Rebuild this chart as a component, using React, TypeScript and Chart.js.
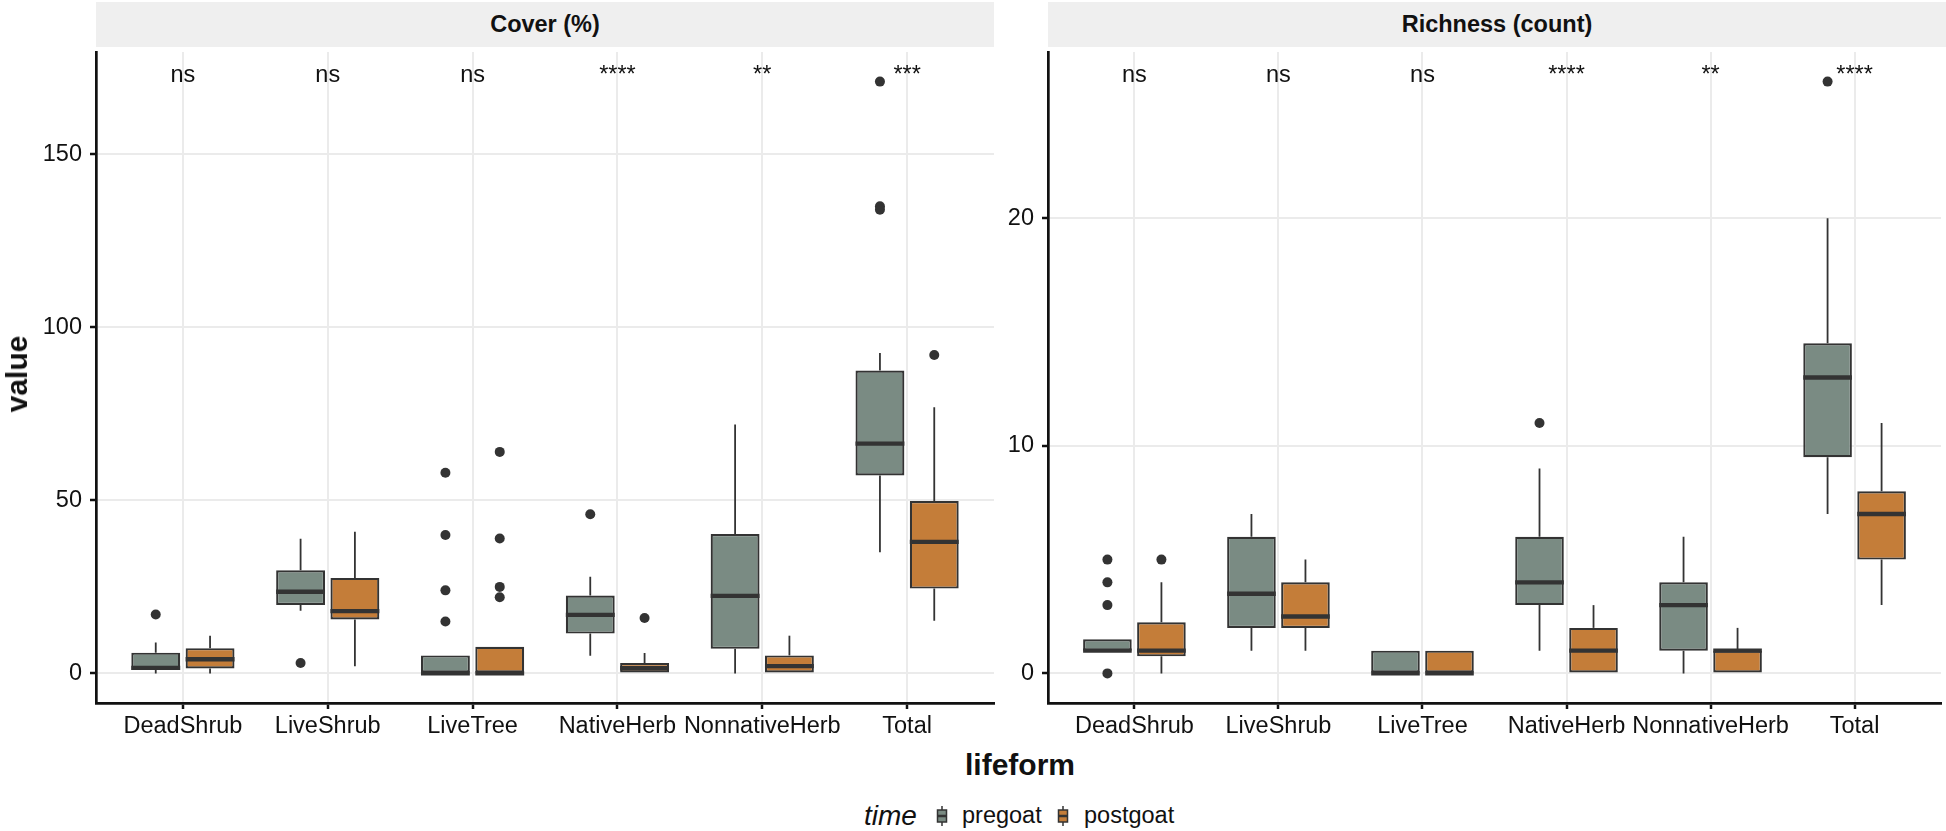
import React, { useEffect, useRef } from 'react';
import { Chart, registerables } from 'chart.js';

Chart.register(...registerables);

// ---------------- data ----------------
const CATEGORIES = ['DeadShrub', 'LiveShrub', 'LiveTree', 'NativeHerb', 'NonnativeHerb', 'Total'];
const SERIES = ['pregoat', 'postgoat'];

// Cover (%) — pregoat
const COVER_PRE_LO = [0, 18.1, 0, 5.1, 0, 35.0];
const COVER_PRE_Q1 = [0.95, 19.8, 0, 11.5, 7.1, 57.2];
const COVER_PRE_MED = [1.6, 23.6, 0, 16.9, 22.4, 66.4];
const COVER_PRE_Q3 = [6.0, 29.8, 5.2, 22.5, 40.3, 87.5];
const COVER_PRE_HI = [8.9, 38.9, 5.2, 27.9, 71.9, 92.6];
const COVER_PRE_OUT = [[17], [3], [58, 40, 24, 15], [46], [], [171, 135, 134]];

// Cover (%) — postgoat
const COVER_POST_LO = [0, 2.1, 0, 0, 0, 15.2];
const COVER_POST_Q1 = [1.4, 15.6, 0, 0, 0, 24.5];
const COVER_POST_MED = [4.1, 18.0, 0, 1.5, 2.1, 38.0];
const COVER_POST_Q3 = [7.3, 27.6, 7.7, 3.0, 5.2, 49.8];
const COVER_POST_HI = [10.9, 40.9, 7.7, 5.9, 10.9, 76.9];
const COVER_POST_OUT = [[], [], [64, 39, 25, 22], [16], [], [92]];

// Richness (count) — pregoat
const RICH_PRE_LO = [1, 1, 0, 1, 0, 7];
const RICH_PRE_Q1 = [1, 2, 0, 3, 1, 9.5];
const RICH_PRE_MED = [1, 3.5, 0, 4, 3, 13];
const RICH_PRE_Q3 = [1.5, 6, 1, 6, 4, 14.5];
const RICH_PRE_HI = [1.5, 7, 1, 9, 6, 20];
const RICH_PRE_OUT = [[5, 4, 3, 0], [], [], [11], [], [26]];

// Richness (count) — postgoat
const RICH_POST_LO = [0, 1, 0, 0, 0, 3];
const RICH_POST_Q1 = [0.75, 2, 0, 0, 0, 5];
const RICH_POST_MED = [1, 2.5, 0, 1, 1, 7];
const RICH_POST_Q3 = [2.25, 4, 1, 2, 1, 8];
const RICH_POST_HI = [4, 5, 1, 3, 2, 11];
const RICH_POST_OUT = [[5], [], [], [], [], []];

// significance labels
const COVER_SIG = ['ns', 'ns', 'ns', '****', '**', '***'];
const RICH_SIG = ['ns', 'ns', 'ns', '****', '**', '****'];
const COVER_SIG_Y = 171;
const RICH_SIG_Y = 26;

// axis ticks / ranges
const COVER_TICKS = [0, 50, 100, 150];
const RICH_TICKS = [0, 10, 20];
const COVER_RANGE = [-8.55, 179.55];
const RICH_RANGE = [-1.3, 27.3];

// ---------------- styles ----------------
const FONT = "'Liberation Sans', Arial, Helvetica, sans-serif";
const TXT = 23.5;
const PRE_FILL = '#7A8B83';
const POST_FILL = '#C47D39';
const LINE_DARK = '#333333';
const GRID = '#EBEBEB';
const STRIP = '#EFEFEF';
const DODGE = 0.1875;

type Box = { lo: number[]; q1: number[]; med: number[]; q3: number[]; hi: number[]; out: number[][] };

type Panel = {
  pre: Box;
  post: Box;
  ticks: number[];
  range: number[];
  sig: string[];
  sigY: number;
  axisWidth: number;
  padRight: number;
};

const COVER_PANEL: Panel = {
  pre: { lo: COVER_PRE_LO, q1: COVER_PRE_Q1, med: COVER_PRE_MED, q3: COVER_PRE_Q3, hi: COVER_PRE_HI, out: COVER_PRE_OUT },
  post: { lo: COVER_POST_LO, q1: COVER_POST_Q1, med: COVER_POST_MED, q3: COVER_POST_Q3, hi: COVER_POST_HI, out: COVER_POST_OUT },
  ticks: COVER_TICKS,
  range: COVER_RANGE,
  sig: COVER_SIG,
  sigY: COVER_SIG_Y,
  axisWidth: 96,
  padRight: 6,
};

const RICH_PANEL: Panel = {
  pre: { lo: RICH_PRE_LO, q1: RICH_PRE_Q1, med: RICH_PRE_MED, q3: RICH_PRE_Q3, hi: RICH_PRE_HI, out: RICH_PRE_OUT },
  post: { lo: RICH_POST_LO, q1: RICH_POST_Q1, med: RICH_POST_MED, q3: RICH_POST_Q3, hi: RICH_POST_HI, out: RICH_POST_OUT },
  ticks: RICH_TICKS,
  range: RICH_RANGE,
  sig: RICH_SIG,
  sigY: RICH_SIG_Y,
  axisWidth: 48,
  padRight: 2,
};

function buildChart(canvas: HTMLCanvasElement, p: Panel) {
  const groups = [
    { box: p.pre, offset: -DODGE, fill: PRE_FILL, name: SERIES[0] },
    { box: p.post, offset: DODGE, fill: POST_FILL, name: SERIES[1] },
  ];

  const outlierSets = groups.map((g) => ({
    type: 'scatter' as const,
    label: g.name + ' outliers',
    data: g.box.out.flatMap((vals, i) => vals.map((v) => ({ x: i + 1 + g.offset, y: v }))),
    pointRadius: 5,
    pointBackgroundColor: LINE_DARK,
    pointBorderWidth: 0,
    showLine: false,
  }));

  const boxSets = groups.map((g) => ({
    type: 'bar' as const,
    label: g.name,
    data: g.box.q1.map((q1, i) => ({ x: i + 1 + g.offset, y: [q1, g.box.q3[i]] })),
    backgroundColor: g.fill,
    borderColor: LINE_DARK,
    borderWidth: 2.2,
    borderSkipped: false,
    grouped: false,
    categoryPercentage: 1,
    barPercentage: 0.9,
  }));

  const extras = {
    id: 'boxExtras',
    beforeDatasetsDraw(chart: any) {
      const ctx = chart.ctx;
      const xs = chart.scales.x;
      const ys = chart.scales.y;
      ctx.save();
      ctx.strokeStyle = LINE_DARK;
      ctx.lineWidth = 1.8;
      groups.forEach((g) => {
        g.box.lo.forEach((lo, i) => {
          const px = xs.getPixelForValue(i + 1 + g.offset);
          ctx.beginPath();
          ctx.moveTo(px, ys.getPixelForValue(lo));
          ctx.lineTo(px, ys.getPixelForValue(g.box.q1[i]));
          ctx.moveTo(px, ys.getPixelForValue(g.box.q3[i]));
          ctx.lineTo(px, ys.getPixelForValue(g.box.hi[i]));
          ctx.stroke();
        });
      });
      ctx.restore();
    },
    afterDatasetsDraw(chart: any) {
      const ctx = chart.ctx;
      const ys = chart.scales.y;
      ctx.save();
      ctx.strokeStyle = LINE_DARK;
      ctx.lineWidth = 4.4;
      groups.forEach((g, gi) => {
        const meta = chart.getDatasetMeta(2 + gi);
        meta.data.forEach((el: any, i: number) => {
          const { x, width } = el.getProps(['x', 'width'], true);
          const py = ys.getPixelForValue(g.box.med[i]);
          ctx.beginPath();
          ctx.moveTo(x - width / 2, py);
          ctx.lineTo(x + width / 2, py);
          ctx.stroke();
        });
      });
      ctx.restore();
    },
    afterDraw(chart: any) {
      const ctx = chart.ctx;
      const xs = chart.scales.x;
      const ys = chart.scales.y;
      ctx.save();
      ctx.fillStyle = '#111';
      ctx.font = `${TXT}px ${FONT}`;
      ctx.textAlign = 'center';
      ctx.textBaseline = 'alphabetic';
      p.sig.forEach((s, i) => {
        ctx.fillText(s, xs.getPixelForValue(i + 1), ys.getPixelForValue(p.sigY));
      });
      ctx.restore();
    },
  };

  return new Chart(canvas, {
    type: 'bar',
    data: { datasets: [...outlierSets, ...boxSets] as any },
    options: {
      animation: false,
      responsive: false,
      events: [],
      layout: { padding: { left: 0, right: p.padRight, top: 0, bottom: 0 } },
      plugins: { legend: { display: false }, tooltip: { enabled: false } },
      scales: {
        x: {
          type: 'linear',
          min: 0.4,
          max: 6.6,
          offset: false,
          afterBuildTicks: (scale: any) => {
            scale.ticks = CATEGORIES.map((_, i) => ({ value: i + 1 }));
          },
          afterFit: (scale: any) => {
            scale.height = 44;
            scale.paddingLeft = 0;
            scale.paddingRight = 0;
          },
          ticks: {
            autoSkip: false,
            maxRotation: 0,
            padding: 3,
            color: '#111',
            font: { family: FONT, size: TXT },
            callback: (v: any) => CATEGORIES[Math.round(Number(v)) - 1] ?? '',
          },
          grid: {
            offset: false,
            color: GRID,
            lineWidth: 2,
            drawTicks: true,
            tickLength: 6,
            tickColor: '#111',
            tickWidth: 2.5,
          },
          border: { display: true, color: '#111', width: 2.7 },
        },
        y: {
          type: 'linear',
          min: p.range[0],
          max: p.range[1],
          afterBuildTicks: (scale: any) => {
            scale.ticks = p.ticks.map((v) => ({ value: v }));
          },
          afterFit: (scale: any) => {
            scale.width = p.axisWidth;
            scale.paddingTop = 0;
            scale.paddingBottom = 0;
          },
          ticks: {
            padding: 8,
            color: '#111',
            font: { family: FONT, size: TXT },
            callback: (v: any) => String(v),
          },
          grid: {
            offset: false,
            color: GRID,
            lineWidth: 2,
            drawTicks: true,
            tickLength: 6,
            tickColor: '#111',
            tickWidth: 2.5,
          },
          border: { display: true, color: '#111', width: 2.7 },
        },
      },
    } as any,
    plugins: [extras],
  });
}

function PanelChart({ panel, left, width }: { panel: Panel; left: number; width: number }) {
  const ref = useRef<HTMLCanvasElement | null>(null);
  useEffect(() => {
    if (!ref.current) return;
    const chart = buildChart(ref.current, panel);
    return () => chart.destroy();
  }, [panel]);
  return (
    <canvas
      ref={ref}
      width={width}
      height={700}
      style={{ position: 'absolute', left, top: 47, width, height: 700 }}
    />
  );
}

function LegendKey({ fill }: { fill: string }) {
  return (
    <svg width={12} height={22} style={{ display: 'block' }}>
      <line x1={6} y1={1} x2={6} y2={21} stroke={LINE_DARK} strokeWidth={1.5} />
      <rect x={1.5} y={5} width={9} height={12} fill={fill} stroke={LINE_DARK} strokeWidth={1.5} />
      <line x1={1.5} y1={11} x2={10.5} y2={11} stroke={LINE_DARK} strokeWidth={2.5} />
    </svg>
  );
}

export default function App() {
  const text = { position: 'absolute' as const, fontFamily: FONT, color: '#111', whiteSpace: 'nowrap' as const };
  return (
    <div style={{ position: 'absolute', left: 0, top: 0, width: 1946, height: 831, background: '#fff', overflow: 'hidden' }}>
      {/* strips */}
      <div style={{ position: 'absolute', left: 96, top: 2, width: 898, height: 45, background: STRIP }} />
      <div style={{ position: 'absolute', left: 1048, top: 2, width: 898, height: 45, background: STRIP }} />
      <div style={{ ...text, left: 96, top: 2, width: 898, height: 45, lineHeight: '45px', textAlign: 'center', fontWeight: 'bold', fontSize: TXT }}>
        Cover (%)
      </div>
      <div style={{ ...text, left: 1048, top: 2, width: 898, height: 45, lineHeight: '45px', textAlign: 'center', fontWeight: 'bold', fontSize: TXT }}>
        Richness (count)
      </div>

      <PanelChart panel={COVER_PANEL} left={0} width={1000} />
      <PanelChart panel={RICH_PANEL} left={1000} width={946} />

      {/* axis titles */}
      <div
        style={{
          ...text,
          left: 17,
          top: 374,
          fontWeight: 'bold',
          fontSize: 30,
          lineHeight: '30px',
          transform: 'translate(-50%, -50%) rotate(-90deg)',
        }}
      >
        value
      </div>
      <div style={{ ...text, left: 1020, top: 765, fontWeight: 'bold', fontSize: 30, lineHeight: '30px', transform: 'translate(-50%, -50%)' }}>
        lifeform
      </div>

      {/* legend */}
      <div style={{ ...text, left: 864, top: 816, fontStyle: 'italic', fontSize: 28, lineHeight: '28px', transform: 'translateY(-50%)' }}>
        time
      </div>
      <div style={{ position: 'absolute', left: 936, top: 805 }}>
        <LegendKey fill={PRE_FILL} />
      </div>
      <div style={{ ...text, left: 962, top: 816, fontSize: TXT, lineHeight: `${TXT}px`, transform: 'translateY(-50%)' }}>
        {SERIES[0]}
      </div>
      <div style={{ position: 'absolute', left: 1057, top: 805 }}>
        <LegendKey fill={POST_FILL} />
      </div>
      <div style={{ ...text, left: 1084, top: 816, fontSize: TXT, lineHeight: `${TXT}px`, transform: 'translateY(-50%)' }}>
        {SERIES[1]}
      </div>
    </div>
  );
}
